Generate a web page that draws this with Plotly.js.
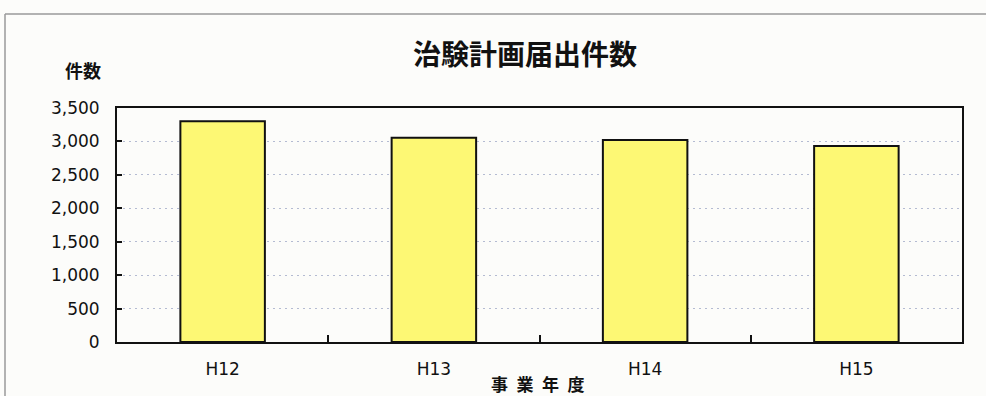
<!DOCTYPE html>
<html><head><meta charset="utf-8">
<script src="https://cdn.plot.ly/plotly-3.0.1.min.js"></script>
<style>html,body{margin:0;padding:0;background:#fcfcfa;}#chart{width:986px;height:396px;}</style>
</head><body><div id="chart"></div>
<script>
const categories = ["H12", "H13", "H14", "H15"];
const counts = [3300, 3055, 3020, 2930];
const yTickValues = [0, 500, 1000, 1500, 2000, 2500, 3000, 3500];
const chartTitle = "治験計画届出件数";
const yLabel = "件数";
const xLabel = "事\u2002業\u2002年\u2002度";

const L = 117, R = 24, T = 108, B = 54;
const PW = 986 - L - R, PH = 396 - T - B;
const px = v => (v - L) / PW;
const py = v => 1 - (v - T) / PH;

const trace = {
  type: "bar", x: categories, y: counts,
  marker: {color: "#fdf874", line: {color: "#111", width: 2}},
  hoverinfo: "none"
};
const tickFont = {family: "DejaVu Sans", size: 17, color: "#111"};
const layout = {
  width: 986, height: 396,
  margin: {l: L, r: R, t: T, b: B},
  paper_bgcolor: "#fcfcfa", plot_bgcolor: "#fcfcfa",
  bargap: 0.6,
  showlegend: false,
  title: {text: chartTitle, x: 525/986, xanchor: "center", y: 1 - 55/396, yanchor: "middle",
          font: {family: "Noto Sans CJK JP", size: 28, weight: 700, color: "#111"}},
  xaxis: {
    type: "category", showline: true, linecolor: "#111", linewidth: 2, mirror: true,
    ticks: "inside", tickson: "boundaries", ticklen: 7, tickwidth: 2, tickcolor: "#111",
    tickfont: tickFont, ticklabelstandoff: 11, showgrid: false, zeroline: false
  },
  yaxis: {
    range: [0, 3500], tickvals: yTickValues, tickformat: ",d",
    showline: true, linecolor: "#111", linewidth: 2, mirror: true,
    ticks: "inside", ticklen: 5, tickwidth: 2, tickcolor: "#111",
    tickfont: tickFont, ticklabelstandoff: 12,
    showgrid: true, gridcolor: "#b4bbd2", gridwidth: 1, griddash: "2px,4px", zeroline: false
  },
  annotations: [
    {text: yLabel, xref: "paper", yref: "paper", x: px(83), y: py(70), xanchor: "center", yanchor: "middle",
     showarrow: false, font: {family: "Noto Sans CJK JP", size: 18, weight: 700, color: "#111"}},
    {text: xLabel, xref: "paper", yref: "paper", x: px(538), y: py(383), xanchor: "center", yanchor: "middle",
     showarrow: false, font: {family: "Noto Sans CJK JP", size: 17, weight: 700, color: "#111"}}
  ],
  shapes: [
    {type: "line", xref: "paper", yref: "paper", x0: px(5), x1: px(986), y0: py(14), y1: py(14),
     line: {color: "#9a9a9a", width: 1.5}},
    {type: "line", xref: "paper", yref: "paper", x0: px(5), x1: px(5), y0: py(14), y1: py(396),
     line: {color: "#9a9a9a", width: 1.5}}
  ]
};
Plotly.newPlot("chart", [trace], layout, {displayModeBar: false, staticPlot: true});
</script></body></html>
